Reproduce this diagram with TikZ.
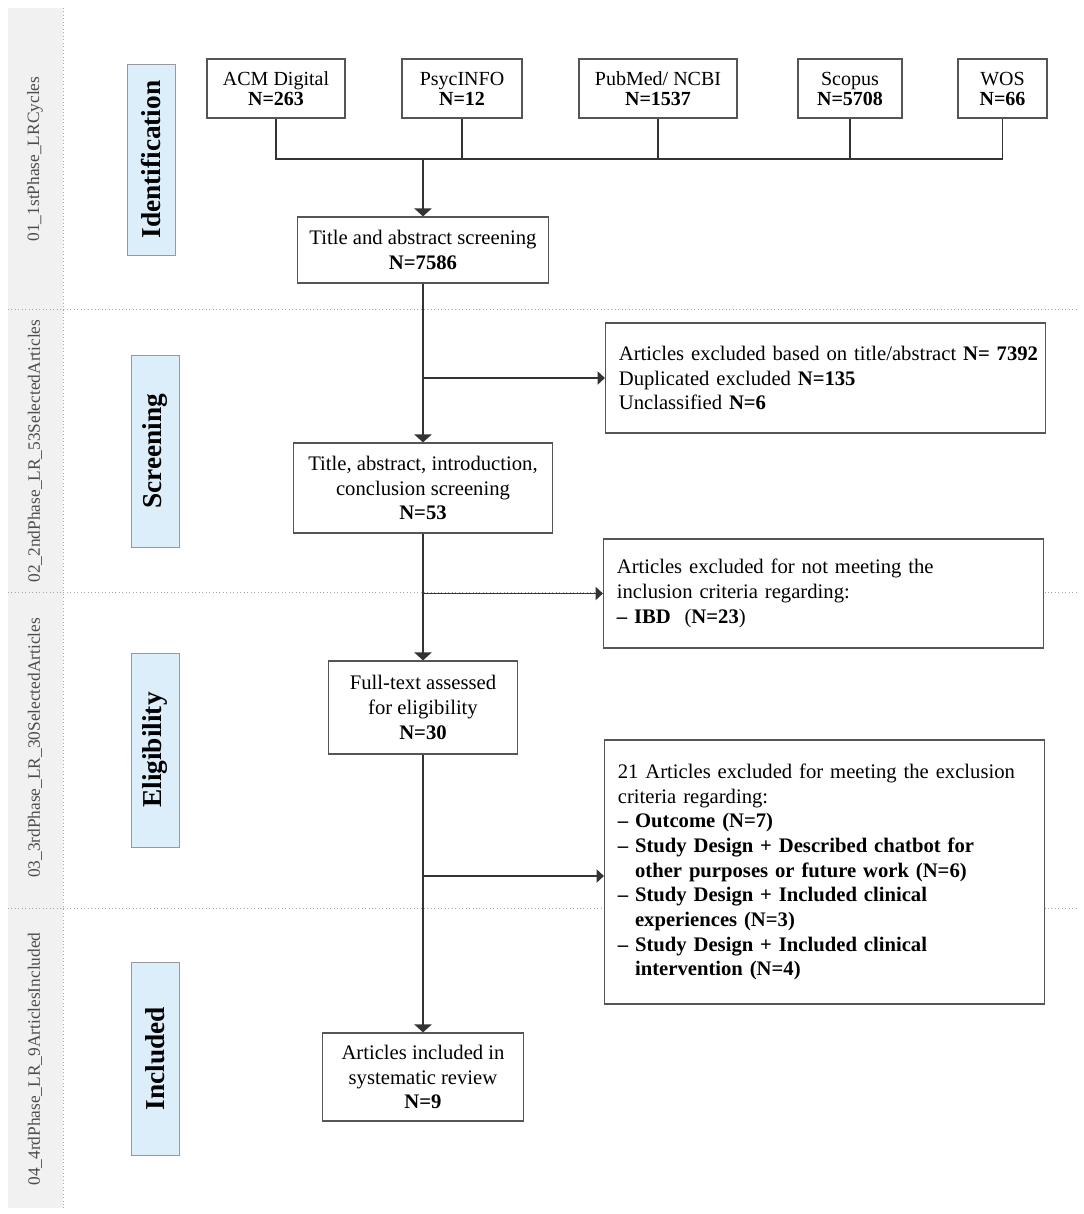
\documentclass[tikz,border=0pt]{standalone}
\usepackage{fontspec}
\setmainfont{Liberation Serif}
\usetikzlibrary{arrows.meta}
\definecolor{colgray}{HTML}{F2F1F1}
\definecolor{stageblue}{HTML}{DDEEFB}
\definecolor{boxline}{HTML}{555555}
\definecolor{connline}{HTML}{333333}
\tikzset{
  box/.style={draw=boxline, line width=0.9pt, fill=white, align=center, inner sep=0pt, font=\fontsize{15.5}{18.5}\selectfont},
  srcbox/.style={box, minimum height=44.25pt, font=\fontsize{15}{15}\selectfont},
  exclbox/.style={draw=boxline, line width=0.9pt, fill=white, align=left, text width=310pt, inner xsep=10pt, inner ysep=0pt, font=\fontsize{15.5}{18.5}\selectfont},
  stagebox/.style={draw=gray!80, fill=stageblue, line width=0.6pt, rotate=90, minimum height=36pt, inner sep=0pt, font=\bfseries\fontsize{20.5}{20.5}\selectfont},
  phaselabel/.style={rotate=90, text=black!70, inner sep=0pt, font=\fontsize{13}{13}\selectfont},
  conn/.style={draw=connline, line width=0.9pt},
  arr/.style={conn, -{Triangle[width=13pt,length=6pt]}},
  sidearr/.style={conn, -{Triangle[width=10pt,length=5.5pt]}},
  sepline/.style={draw=gray!70, dotted, line width=0.6pt},
}
\begin{document}
\begin{tikzpicture}[x=0.75pt,y=-0.75pt]
\useasboundingbox (0,0) rectangle (1084,1214);
% left gray column
\fill[colgray] (8,8) rectangle (63,1208);
\draw[sepline] (63,8) -- (63,1210);
\draw[sepline] (8,309) -- (1078,309);
\draw[sepline] (8,592) -- (1078,592);
\draw[sepline] (8,908) -- (1078,908);
% phase labels
\node[phaselabel] (ph1) at (35,159) {01\_1stPhase\_LRCycles};
\node[phaselabel] (ph2) at (35,451) {02\_2ndPhase\_LR\_53SelectedArticles};
\node[phaselabel] (ph3) at (35,748) {03\_3rdPhase\_LR\_30SelectedArticles};
\node[phaselabel] (ph4) at (35,1059) {04\_4rdPhase\_LR\_9ArticlesIncluded};
% stage boxes
\node[stagebox, minimum width=143.25pt] (st1) at (151.5,159.5) {Identification};
\node[stagebox, minimum width=144pt] (st2) at (155.5,451) {Screening};
\node[stagebox, minimum width=145.5pt] (st3) at (155.5,750) {Eligibility};
\node[stagebox, minimum width=144.75pt] (st4) at (155.5,1058.5) {Included};
% sources
\node[srcbox, minimum width=103.5pt] (acm) at (276,88.5) {ACM Digital\\\textbf{N=263}};
\node[srcbox, minimum width=90pt] (psyc) at (462,88.5) {PsycINFO\\\textbf{N=12}};
\node[srcbox, minimum width=118.5pt] (pub) at (658,88.5) {PubMed/ NCBI\\\textbf{N=1537}};
\node[srcbox, minimum width=78pt] (sco) at (850,88.5) {Scopus\\\textbf{N=5708}};
\node[srcbox, minimum width=66.75pt] (wos) at (1002.5,88.5) {WOS\\\textbf{N=66}};
% main column
\node[box, minimum width=188.25pt, minimum height=49.5pt] (tas) at (423,250) {Title and abstract screening\\\textbf{N=7586}};
\node[box, minimum width=194.25pt, minimum height=67.5pt] (scr) at (423,488) {Title, abstract, introduction,\\conclusion screening\\\textbf{N=53}};
\node[box, minimum width=141.75pt, minimum height=69.75pt] (full) at (423,707.5) {Full-text assessed\\for eligibility\\\textbf{N=30}};
\node[box, minimum width=150.75pt, minimum height=66pt] (incl) at (423,1077) {Articles included in\\systematic review\\\textbf{N=9}};
% exclusion boxes
\node[exclbox, minimum height=82.5pt] (ex1) at (825.5,378) {\mbox{Articles excluded based on title/abstract \textbf{N= 7392}}\\Duplicated excluded \textbf{N=135}\\Unclassified \textbf{N=6}};
\node[exclbox, minimum height=81.75pt] (ex2) at (823.5,593.5) {Articles excluded for not meeting the\\inclusion criteria regarding:\\\textbf{–~IBD}~~(\textbf{N=23})};
\node[exclbox, minimum height=198pt] (ex3) at (824.5,872) {21 Articles excluded for meeting the exclusion\\criteria regarding:\\
\textbf{–~Outcome (N=7)}\\
\textbf{–~Study Design + Described chatbot for}\\
\textbf{\phantom{–~}other purposes or future work (N=6)}\\
\textbf{–~Study Design + Included clinical}\\
\textbf{\phantom{–~}experiences (N=3)}\\
\textbf{–~Study Design + Included clinical}\\
\textbf{\phantom{–~}intervention (N=4)}};
% connectors
\coordinate (bus) at (423,159);
\draw[conn] (acm.south) |- (bus) -| (wos.south);
\draw[conn] (psyc.south) -- (psyc.south |- bus);
\draw[conn] (pub.south) -- (pub.south |- bus);
\draw[conn] (sco.south) -- (sco.south |- bus);
\draw[arr] (bus) -- (tas.north);
\draw[arr] (tas.south) -- (scr.north);
\draw[sidearr] (tas.south |- ex1.west) -- (ex1.west);
\draw[arr] (scr.south) -- (full.north);
\draw[sidearr] (scr.south |- ex2.west) -- (ex2.west);
\draw[arr] (full.south) -- (incl.north);
\coordinate (b3) at (423,876);
\draw[sidearr] (b3) -- (ex3.west |- b3);
\end{tikzpicture}
\end{document}
